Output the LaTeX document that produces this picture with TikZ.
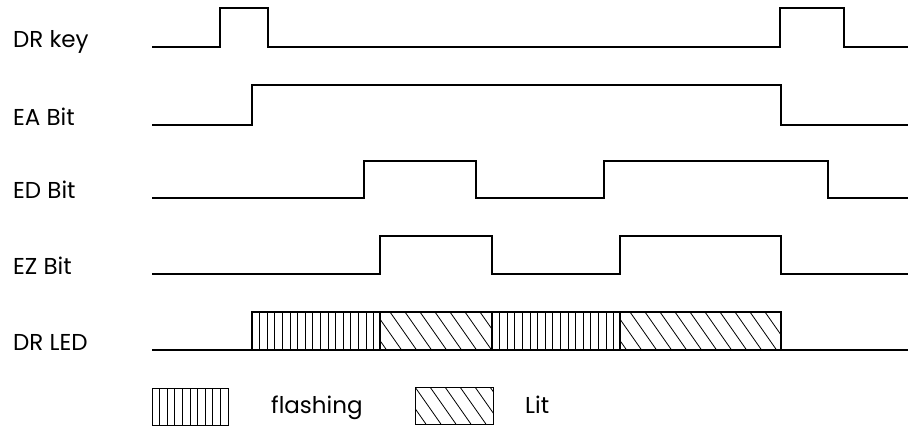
\documentclass[tikz,border=0pt]{standalone}
\usepackage{fontspec}
\setmainfont{Poppins}
\begin{document}
\begin{tikzpicture}[x=1pt,y=-1pt,
  sig/.style={line width=1.8pt, line join=miter},
  lbl/.style={anchor=base west, inner sep=0pt, font=\fontsize{23}{26}\selectfont},
  vhatch/.style={line width=0.8pt},
  dhatch/.style={line width=0.8pt},
  legbox/.style={line width=1pt}]
\useasboundingbox (0,0) rectangle (912,426);

% labels
\node[lbl] (lk) at (13,47) {DR key};
\node[lbl] (la) at (13,125) {EA Bit};
\node[lbl] (ld) at (13,198) {ED Bit};
\node[lbl] (lz) at (13,274) {EZ Bit};
\node[lbl] (ll) at (13,350) {DR LED};

% waveforms
\draw[sig] (152,47) -- (220,47) -- (220,8) -- (268,8) -- (268,47) -- (780,47) -- (780,8) -- (844,8) -- (844,47) -- (908,47);
\draw[sig] (152,125) -- (252,125) -- (252,85) -- (781,85) -- (781,125) -- (908,125);
\draw[sig] (152,198) -- (364,198) -- (364,161) -- (476,161) -- (476,198) -- (604,198) -- (604,161) -- (828,161) -- (828,198) -- (908,198);
\draw[sig] (152,274) -- (380,274) -- (380,236) -- (492,236) -- (492,274) -- (620,274) -- (620,236) -- (781,236) -- (781,274) -- (908,274);

% DR LED hatching
\foreach \a/\b in {252/380, 492/620}{
  \pgfmathsetmacro{\s}{\a+7.6}
  \pgfmathsetmacro{\t}{\a+15.2}
  \foreach \x in {\s,\t,...,\b}{
    \ifdim \x pt<\b pt \draw[vhatch] (\x,312) -- (\x,350);\fi
  }
}
\foreach \a/\b in {380/492, 620/781}{
  \begin{scope}
    \clip (\a,312) rectangle (\b,350);
    \pgfmathsetmacro{\s}{\a-35}
    \pgfmathsetmacro{\t}{\a-20}
    \foreach \x in {\s,\t,...,\b}{
      \draw[dhatch] (\x,312) -- ++(26.6,38);
    }
  \end{scope}
}
\draw[sig] (152,350) -- (908,350);
\draw[sig] (252,312) rectangle (781,350);
\foreach \x in {380,492,620}{\draw[sig] (\x,312) -- (\x,350);}

% legend
\foreach \x in {159.6,167.2,...,224}{\draw[vhatch] (\x,388) -- (\x,425);}
\draw[legbox] (152,388) rectangle (228,425);
\node[lbl] (lf) at (271,413) {flashing};
\begin{scope}
  \clip (415,387) rectangle (493,424);
  \foreach \x in {400,415,...,493}{\draw[dhatch] (\x,387) -- ++(25.9,37);}
\end{scope}
\draw[legbox] (415,387) rectangle (493,424);
\node[lbl] (lt) at (525,413) {Lit};
\end{tikzpicture}
\end{document}
